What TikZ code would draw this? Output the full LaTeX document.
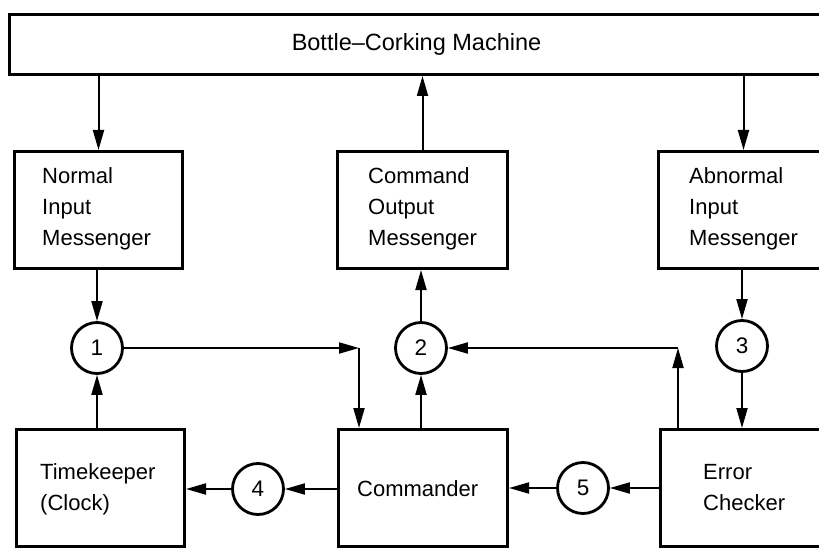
\documentclass[tikz,border=0pt]{standalone}
\usepackage{fontspec}
\setmainfont{Liberation Sans}
\usetikzlibrary{arrows.meta,calc}
\begin{document}
\begin{tikzpicture}[x=1pt,y=-1pt,
  box/.style={draw,line width=3pt,inner sep=0pt,anchor=north west,minimum height=117pt},
  lbl/.style={font=\fontsize{22}{31}\selectfont,align=left,anchor=west,inner sep=0pt},
  msg/.style={draw,circle,line width=2.8pt,minimum size=51pt,inner sep=0pt,font=\fontsize{22.5}{26}\selectfont},
  arr/.style={line width=2pt,-{Triangle[length=20pt,width=11pt]}},
]
\useasboundingbox (0,0) rectangle (819,548);

% top: the machine itself (runs off the right edge)
\node[box,minimum width=814pt,minimum height=60pt,font=\fontsize{23.5}{28}\selectfont] (bcm) at (8,13) {Bottle--Corking Machine};

% messenger boxes
\node[box,minimum width=168pt] (nim) at (13,150) {};
\node[box,minimum width=170pt] (com) at (336,150) {};
\node[box,minimum width=170pt] (aim) at (657,150) {};

% processing boxes
\node[box,minimum width=168pt] (tk) at (15,428) {};
\node[box,minimum width=169pt] (cmd) at (337,428) {};
\node[box,minimum width=170pt] (ec) at (659,428) {};

% box labels
\node[lbl] (tn) at (42,209) {Normal\\Input\\Messenger};
\node[lbl] (tc) at (368,209) {Command\\Output\\Messenger};
\node[lbl] (ta) at (689,209) {Abnormal\\Input\\Messenger};
\node[lbl] (tt) at (40,489) {Timekeeper\\(Clock)};
\node[lbl] (tm) at (357,489) {Commander};
\node[lbl] (te) at (703,488) {Error\\Checker};

% numbered messages
\node[msg] (c1) at (97,348) {1};
\node[msg] (c2) at (421,348) {2};
\node[msg] (c3) at (742,346) {3};
\node[msg] (c4) at (258,489) {4};
\node[msg] (c5) at (583,488) {5};

% corners of the routed connectors
\coordinate (k1) at (359,348);
\coordinate (k2) at (678,348);

% connectors
\draw[arr] (bcm.south -| nim) -- (nim.north);
\draw[arr] (com.north) -- (com.north |- bcm.south);
\draw[arr] (bcm.south -| aim) -- (aim.north);
\draw[arr] (nim.south -| c1) -- (c1.north);
\draw[arr] (c2.north) -- (com.south -| c2);
\draw[arr] (aim.south -| c3) -- (c3.north);
\draw[arr] (tk.north -| c1) -- (c1.south);
\draw[arr] (cmd.north -| c2) -- (c2.south);
\draw[arr] (c3.south) -- (ec.north -| c3);
\draw[arr] (c1.east) -- (k1);
\draw[arr] (k1) -- (k1 |- cmd.north);
\draw[arr] (ec.north -| k2) -- (k2);
\draw[arr] (k2) -- (c2.east);
\draw[arr] (cmd.west |- c4) -- (c4.east);
\draw[arr] (c4.west) -- (tk.east |- c4);
\draw[arr] (ec.west |- c5) -- (c5.east);
\draw[arr] (c5.west) -- (cmd.east |- c5);
\end{tikzpicture}
\end{document}
